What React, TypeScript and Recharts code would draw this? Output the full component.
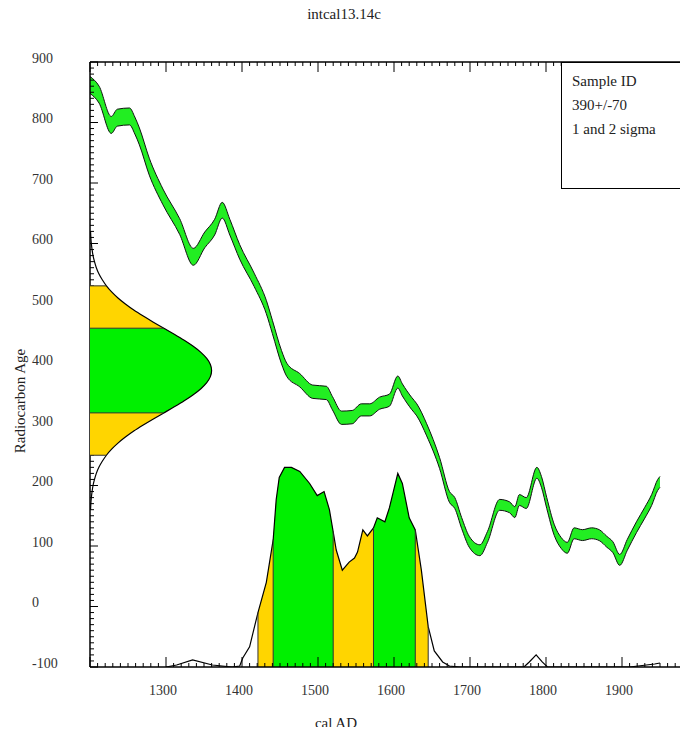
import React from "react";
import { ComposedChart, Area, XAxis, YAxis, ReferenceLine } from "recharts";

// calibration curve (intcal13), mid value and 1 sigma half width
const CURVE_YEAR = [1200, 1212, 1228, 1236, 1252, 1259, 1265, 1278, 1296, 1318, 1336, 1351, 1364, 1374, 1384, 1397, 1416, 1432, 1440, 1452, 1459, 1476, 1493, 1511, 1519, 1531, 1545, 1557, 1568, 1581, 1594, 1605, 1611, 1623, 1630, 1643, 1660, 1673, 1680, 1689, 1699, 1713, 1723, 1739, 1752, 1759, 1765, 1774, 1788, 1794, 1801, 1811, 1820, 1828, 1837, 1848, 1860, 1870, 1880, 1888, 1897, 1907, 1919, 1930, 1939, 1947, 1950];
const CURVE_AGE = [862, 846, 796, 808, 810, 795, 777, 727, 677, 628, 578, 606, 627, 655, 627, 586, 540, 495, 462, 412, 391, 374, 355, 353, 336, 312, 313, 325, 325, 336, 341, 371, 358, 336, 325, 292, 237, 181, 171, 138, 107, 93, 115, 168, 164, 156, 176, 171, 221, 206, 171, 126, 105, 97, 121, 118, 121, 118, 107, 98, 77, 102, 131, 155, 176, 201, 206];
const CURVE_ERR = [14, 14, 14, 14, 14, 14, 14, 14, 13, 13, 14, 13, 13, 13, 13, 12, 11, 11, 11, 11, 11, 11, 11, 11, 11, 11, 11, 10, 10, 10, 10, 10, 10, 10, 10, 10, 9, 9, 9, 9, 9, 9, 9, 9, 9, 9, 9, 9, 9, 9, 9, 9, 9, 9, 9, 9, 9, 9, 9, 9, 9, 9, 9, 9, 9, 9, 9];

// calibrated date distribution (relative probability)
const PROB_YEAR = [1300, 1314, 1335, 1361, 1387, 1397, 1401, 1410, 1421, 1432, 1441, 1445, 1449, 1456, 1465, 1476, 1489, 1499, 1508, 1515, 1520, 1524, 1532, 1541, 1548, 1552, 1559, 1565, 1573, 1578, 1588, 1594, 1605, 1611, 1620, 1628, 1636, 1645, 1653, 1664, 1673, 1686, 1771, 1778, 1787, 1795, 1802, 1910, 1943, 1950];
const PROB = [0, 0.01, 0.035, 0.01, 0, 0.005, 0.045, 0.1, 0.27, 0.42, 0.63, 0.83, 0.94, 0.99, 0.99, 0.97, 0.91, 0.85, 0.87, 0.78, 0.67, 0.58, 0.48, 0.52, 0.54, 0.57, 0.68, 0.65, 0.69, 0.74, 0.72, 0.79, 0.96, 0.91, 0.74, 0.68, 0.48, 0.2, 0.08, 0.025, 0.005, 0, 0, 0.025, 0.06, 0.025, 0, 0, 0.015, 0.02];
const CAL_SIGMA1 = [[1441, 1520], [1573, 1628]];
const CAL_SIGMA2 = [[1421, 1645]];

// measured age 390 +/- 70
const MEAS_AGE = [160, 170, 180, 190, 200, 210, 220, 230, 240, 250, 260, 270, 280, 290, 300, 310, 320, 330, 340, 350, 360, 370, 380, 390, 400, 410, 420, 430, 440, 450, 460, 470, 480, 490, 500, 510, 520, 530, 540, 550, 560, 570, 580, 590, 600, 610, 620];
const MEAS_PROB = [0.0045, 0.007, 0.011, 0.017, 0.025, 0.037, 0.052, 0.073, 0.101, 0.135, 0.178, 0.23, 0.291, 0.36, 0.438, 0.521, 0.607, 0.693, 0.775, 0.849, 0.912, 0.96, 0.99, 1, 0.99, 0.96, 0.912, 0.849, 0.775, 0.693, 0.607, 0.521, 0.438, 0.36, 0.291, 0.23, 0.178, 0.135, 0.101, 0.073, 0.052, 0.037, 0.025, 0.017, 0.011, 0.007, 0.0045];
const MEAS_SIGMA1 = [320, 460];
const MEAS_SIGMA2 = [250, 530];

const X_TICKS = [1300, 1400, 1500, 1600, 1700, 1800, 1900];
const Y_TICKS = [-100, 0, 100, 200, 300, 400, 500, 600, 700, 800, 900];
// every 10 units a small tick, labelled ones get a long tick
const X_ALL = Array.from({ length: 81 }, (_, i) => 1200 + i * 10);
const Y_ALL = Array.from({ length: 101 }, (_, i) => -100 + i * 10);

const SERIF = '"Liberation Serif", "Times New Roman", serif';
const GREEN = "#00f000";
const YELLOW = "#ffd500";
const W = 720;
const H = 735;
const M_OVERLAY = { top: 62, right: 22, bottom: 68, left: 90 };
// one 1px axis per side in the main chart
const M = { top: 61, right: 21, bottom: 67, left: 89 };
const PLOT_W = W - M_OVERLAY.left - M_OVERLAY.right;
const PLOT_H = H - M_OVERLAY.top - M_OVERLAY.bottom;
const X_MARGIN = 23;
const Y_MARGIN = 58;

const inRanges = (v: number, ranges: number[][]) => ranges.some(([a, b]) => v >= a && v <= b);

const bandData = CURVE_YEAR.map((year, i) => ({
  year,
  band: [CURVE_AGE[i] - CURVE_ERR[i], CURVE_AGE[i] + CURVE_ERR[i]],
}));

const probData = PROB_YEAR.map((year, i) => ({
  year,
  p: PROB[i],
  s2: inRanges(year, CAL_SIGMA2) ? PROB[i] : null,
  s1: inRanges(year, CAL_SIGMA1) ? PROB[i] : null,
}));

const measData = MEAS_AGE.map((age, i) => ({
  age,
  p: MEAS_PROB[i],
  s2: age >= MEAS_SIGMA2[0] && age <= MEAS_SIGMA2[1] ? MEAS_PROB[i] : null,
  s1: age >= MEAS_SIGMA1[0] && age <= MEAS_SIGMA1[1] ? MEAS_PROB[i] : null,
}));

const calEdges = [...CAL_SIGMA2.flat(), ...CAL_SIGMA1.flat()];
const measEdges = [...MEAS_SIGMA2, ...MEAS_SIGMA1];

// bottom tick: draws the inward tick on the bottom and top frame plus the label
const XTick = (props: any) => {
  const { x, y, payload } = props;
  const v = payload.value;
  const axisY = y - X_MARGIN;
  const len = v % 100 === 0 ? 10 : 4;
  return (
    <g>
      <line x1={x} x2={x} y1={axisY} y2={axisY - len} stroke="#000" />
      <line x1={x} x2={x} y1={axisY - PLOT_H} y2={axisY - PLOT_H + len} stroke="#000" />
      {X_TICKS.includes(v) && (
        <text x={x - 3} y={y} dy="0.35em" textAnchor="middle" fontSize={14} fontFamily={SERIF} fill="#333">{v}</text>
      )}
    </g>
  );
};

// left tick: inward tick on the left and right frame plus the label
const YTick = (props: any) => {
  const { x, y, payload } = props;
  const v = payload.value;
  const axisX = x + Y_MARGIN;
  const len = v % 100 === 0 ? 8 : 4;
  return (
    <g>
      <line x1={axisX} x2={axisX + len} y1={y} y2={y} stroke="#000" />
      <line x1={axisX + PLOT_W} x2={axisX + PLOT_W - len - 2} y1={y} y2={y} stroke="#000" />
      {Y_TICKS.includes(v) && (
        <text x={x} y={y - 4} dy="0.35em" textAnchor="start" fontSize={14} fontFamily={SERIF} fill="#333">{v}</text>
      )}
    </g>
  );
};

const axisCommon = { stroke: "#000", allowDataOverflow: true, interval: 0 as const, tickLine: false };

export default function App() {
  return (
    <div style={{ position: "relative", width: 688, height: 735, margin: -8, overflow: "hidden", background: "#fff" }}>
      <div style={{ position: "absolute", left: 0, top: 0 }}>
        <ComposedChart width={W} height={H} margin={M}>
          <XAxis xAxisId="x" type="number" dataKey="year" domain={[1200, 2000]} ticks={X_ALL} height={1}
            tickSize={0} tickMargin={X_MARGIN} tick={<XTick />} axisLine={{ strokeWidth: 1.5 }} {...axisCommon} />
          <XAxis xAxisId="xt" orientation="top" type="number" domain={[1200, 2000]} ticks={X_TICKS} height={1}
            tick={false} axisLine={{ strokeWidth: 1.5 }} {...axisCommon} />
          <YAxis yAxisId="y" type="number" domain={[-100, 900]} ticks={Y_ALL} width={1}
            tickSize={0} tickMargin={Y_MARGIN} tick={<YTick />} axisLine={{ strokeWidth: 1.5 }} {...axisCommon} />
          <YAxis yAxisId="yr" orientation="right" type="number" domain={[-100, 900]} ticks={Y_TICKS} width={1}
            tick={false} axisLine={{ strokeWidth: 1.5 }} {...axisCommon} />
          <YAxis yAxisId="prob" type="number" domain={[0, 3]} hide width={0} allowDataOverflow />

          <Area xAxisId="x" yAxisId="prob" data={probData} dataKey="s2" type="linear" fill={YELLOW} fillOpacity={1}
            stroke="none" isAnimationActive={false} />
          <Area xAxisId="x" yAxisId="prob" data={probData} dataKey="s1" type="linear" fill={GREEN} fillOpacity={1}
            stroke="none" isAnimationActive={false} />
          {calEdges.map((yr) => (
            <ReferenceLine key={yr} xAxisId="x" yAxisId="prob" stroke="#333" strokeWidth={1}
              segment={[{ x: yr, y: 0 }, { x: yr, y: PROB[PROB_YEAR.indexOf(yr)] }]} />
          ))}
          <Area xAxisId="x" yAxisId="prob" data={probData} dataKey="p" type="linear" fill="none"
            stroke="#000" strokeWidth={1.2} isAnimationActive={false} />

          <Area xAxisId="x" yAxisId="y" data={bandData} dataKey="band" type="monotone" fill="#22ee22" fillOpacity={1}
            stroke="#111" strokeWidth={1} isAnimationActive={false} />
        </ComposedChart>
      </div>

      <div style={{ position: "absolute", left: 0, top: 0 }}>
        {/* vertical layout runs the number y axis top-down, so reverse it to keep 900 at the top */}
        <ComposedChart layout="vertical" width={W} height={H} margin={M_OVERLAY}>
          <XAxis type="number" domain={[0, 5]} hide allowDataOverflow />
          <YAxis type="number" dataKey="age" domain={[-100, 900]} reversed hide width={0} allowDataOverflow />
          <Area data={measData} dataKey="s2" type="monotone" fill={YELLOW} fillOpacity={1} stroke="none"
            isAnimationActive={false} />
          <Area data={measData} dataKey="s1" type="monotone" fill={GREEN} fillOpacity={1} stroke="none"
            isAnimationActive={false} />
          {measEdges.map((age) => (
            <ReferenceLine key={age} stroke="#333" strokeWidth={1}
              segment={[{ x: 0, y: age }, { x: MEAS_PROB[MEAS_AGE.indexOf(age)], y: age }]} />
          ))}
          <Area data={measData} dataKey="p" type="monotone" fill="none" stroke="#000" strokeWidth={1.2}
            isAnimationActive={false} />
        </ComposedChart>
      </div>

      <div style={{ position: "absolute", left: 0, top: 6, width: 688, textAlign: "center", fontFamily: SERIF, fontSize: 15, color: "#222" }}>
        intcal13.14c
      </div>
      <div style={{ position: "absolute", left: 296, top: 715, width: 80, textAlign: "center", fontFamily: SERIF, fontSize: 15, color: "#222" }}>
        cal AD
      </div>
      <div style={{ position: "absolute", left: -80, top: 391, width: 200, height: 20, lineHeight: "20px", textAlign: "center",
        transform: "rotate(-90deg)", fontFamily: SERIF, fontSize: 15, color: "#222" }}>
        Radiocarbon Age
      </div>
      <div style={{ position: "absolute", left: 561, top: 62, width: 200, height: 127, boxSizing: "border-box",
        border: "1.5px solid #000", background: "#fff", padding: "6px 0 0 10px", fontFamily: SERIF, fontSize: 15,
        lineHeight: "24px", color: "#222" }}>
        <div>Sample ID</div>
        <div>390+/-70</div>
        <div>1 and 2 sigma</div>
      </div>
    </div>
  );
}
